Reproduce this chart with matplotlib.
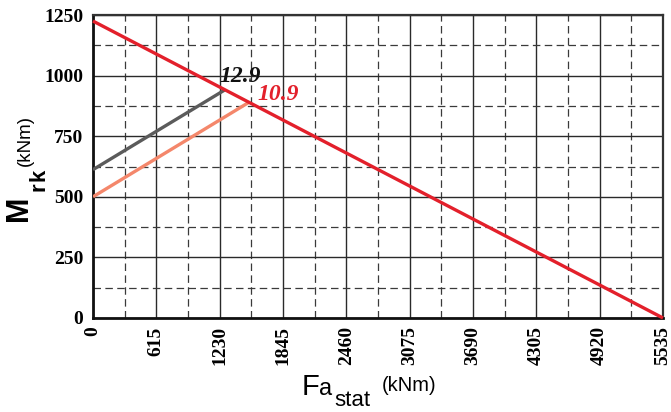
import matplotlib
matplotlib.use("Agg")
import matplotlib.pyplot as plt
from matplotlib.ticker import MultipleLocator

# Data
x_ticks = [0, 615, 1230, 1845, 2460, 3075, 3690, 4305, 4920, 5535]
y_ticks = [0, 250, 500, 750, 1000, 1250]
limit_x = [0, 5535]
limit_y = [1225, 0]
grade129_x = [0, 1280]
grade129_y = [612, 941]
grade109_x = [0, 1515]
grade109_y = [500, 890]

fig = plt.figure(figsize=(6.71, 4.12), dpi=100)
ax = fig.add_axes([93/671, 1-318/412, (663-93)/671, (318-15)/412])

ax.set_xlim(0, 5535)
ax.set_ylim(0, 1250)
ax.set_xticks(x_ticks)
ax.set_yticks(y_ticks)
ax.xaxis.set_minor_locator(MultipleLocator(307.5))
ax.yaxis.set_minor_locator(MultipleLocator(125))

ax.grid(which='major', color='#2a2a2a', lw=1.0, ls='-')
ax.grid(which='minor', color='#3a3a3a', lw=0.9, ls=(0, (6, 3.5)))
ax.set_axisbelow(True)

serif_bold = dict(family='Liberation Serif', weight='bold', size=14)
ax.set_xticklabels([str(v) for v in x_ticks], rotation=90, **serif_bold)
ax.set_yticklabels([str(v) for v in y_ticks], **serif_bold)
ax.tick_params(axis='both', which='both', length=0)
ax.tick_params(axis='y', pad=7)
ax.tick_params(axis='x', pad=6)

for s in ['left', 'bottom']:
    ax.spines[s].set_linewidth(2.0)
    ax.spines[s].set_color('#111111')
for s in ['top', 'right']:
    ax.spines[s].set_linewidth(1.6)
    ax.spines[s].set_color('#333333')

ax.plot(grade129_x, grade129_y, color='#5b5b5b', lw=2.4, solid_capstyle='butt', zorder=3)
ax.plot(grade109_x, grade109_y, color='#f4876b', lw=2.4, solid_capstyle='butt', zorder=3)
ax.plot(limit_x, limit_y, color='#e3202b', lw=2.4, solid_capstyle='butt', zorder=4, clip_on=False)

ann = dict(family='Liberation Serif', weight='bold', style='italic', size=17)
ax.annotate('12.9', xy=(grade129_x[1], grade129_y[1]), xytext=(-3.6, 5.8),
            textcoords='offset points', ha='left', va='baseline', color='#111111', **ann)
ax.annotate('10.9', xy=(grade109_x[1], grade109_y[1]), xytext=(5.8, 1.4),
            textcoords='offset points', ha='left', va='baseline', color='#e3202b', **ann)

W, H = 671, 412
def fx(px): return px / W
def fy(py): return 1 - py / H

sans = 'Liberation Sans'
rot = dict(rotation=90, rotation_mode='anchor', ha='center', va='baseline')
# Y label
fig.text(fx(27), fy(208), 'M', family=sans, weight='bold', size=22, **rot)
fig.text(fx(45), fy(187), 'r', family=sans, weight='bold', size=16, **rot)
fig.text(fx(45), fy(175), 'k', family=sans, weight='bold', size=16, **rot)
fig.text(fx(30), fy(140), '(kNm)', family=sans, size=13.5, **rot)

# X label
fig.text(fx(302), fy(395), 'F', ha='left', va='baseline', family=sans, size=21)
fig.text(fx(319), fy(395), 'a', ha='left', va='baseline', family=sans, size=17)
fig.text(fx(334), fy(406), 'stat', ha='left', va='baseline', family=sans, size=16)
fig.text(fx(382), fy(391), '(kNm)', ha='left', va='baseline', family=sans, size=14.5)

fig.savefig('out.png', dpi=100)
